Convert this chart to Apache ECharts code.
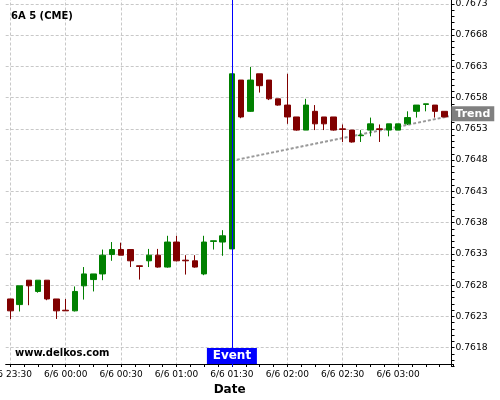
<!DOCTYPE html>
<html><head><meta charset="utf-8">
<script src="https://cdn.jsdelivr.net/npm/echarts@6/dist/echarts.min.js"></script>
<style>html,body{margin:0;padding:0;background:#fff}#chart{width:500px;height:400px}</style>
</head><body><div id="chart"></div>
<script>
// ---- data ----
const candleTimes = ['6/5 23:30','6/5 23:35','6/5 23:40','6/5 23:45','6/5 23:50','6/5 23:55',
  '6/6 00:00','6/6 00:05','6/6 00:10','6/6 00:15','6/6 00:20','6/6 00:25',
  '6/6 00:30','6/6 00:35','6/6 00:40','6/6 00:45','6/6 00:50','6/6 00:55',
  '6/6 01:00','6/6 01:05','6/6 01:10','6/6 01:15','6/6 01:20','6/6 01:25',
  '6/6 01:30','6/6 01:35','6/6 01:40','6/6 01:45','6/6 01:50','6/6 01:55',
  '6/6 02:00','6/6 02:05','6/6 02:10','6/6 02:15','6/6 02:20','6/6 02:25',
  '6/6 02:30','6/6 02:35','6/6 02:40','6/6 02:45','6/6 02:50','6/6 02:55',
  '6/6 03:00','6/6 03:05','6/6 03:10','6/6 03:15','6/6 03:20','6/6 03:25'];
const openVals = [0.76258,0.76249,0.76288,0.76270,0.76288,0.76258,
  0.76240,0.76239,0.76279,0.76289,0.76298,0.76329,
  0.76337,0.76337,0.76311,0.76319,0.76328,0.76309,
  0.76349,0.76320,0.76319,0.76298,0.76350,0.76349,
  0.76338,0.76608,0.76558,0.76618,0.76608,0.76578,
  0.76568,0.76549,0.76528,0.76558,0.76549,0.76549,
  0.76530,0.76528,0.76519,0.76528,0.76530,0.76528,
  0.76528,0.76538,0.76558,0.76569,0.76568,0.76558];
const closeVals = [0.76239,0.76279,0.76279,0.76288,0.76258,0.76239,
  0.76239,0.76270,0.76298,0.76298,0.76328,0.76337,
  0.76328,0.76319,0.76310,0.76328,0.76309,0.76349,
  0.76319,0.76319,0.76309,0.76349,0.76351,0.76359,
  0.76618,0.76549,0.76608,0.76599,0.76578,0.76568,
  0.76549,0.76528,0.76568,0.76538,0.76538,0.76528,
  0.76529,0.76509,0.76520,0.76538,0.76529,0.76538,
  0.76538,0.76548,0.76568,0.76570,0.76558,0.76549];
const lowVals = [0.76226,0.76238,0.76248,0.76268,0.76256,0.76226,
  0.76239,0.76238,0.76257,0.76270,0.76288,0.76319,
  0.76328,0.76309,0.76289,0.76309,0.76308,0.76308,
  0.76318,0.76297,0.76308,0.76296,0.76337,0.76327,
  0.76338,0.76547,0.76557,0.76588,0.76576,0.76567,
  0.76538,0.76527,0.76528,0.76528,0.76528,0.76527,
  0.76509,0.76508,0.76509,0.76518,0.76509,0.76518,
  0.76528,0.76536,0.76548,0.76558,0.76548,0.76549];
const highVals = [0.76258,0.76279,0.76288,0.76288,0.76288,0.76258,
  0.76258,0.76278,0.76309,0.76298,0.76337,0.76349,
  0.76348,0.76337,0.76311,0.76338,0.76338,0.76359,
  0.76359,0.76328,0.76328,0.76359,0.76351,0.76368,
  0.76618,0.76608,0.76629,0.76618,0.76608,0.76578,
  0.76618,0.76549,0.76578,0.76568,0.76549,0.76549,
  0.76537,0.76528,0.76528,0.76548,0.76537,0.76538,
  0.76538,0.76558,0.76568,0.76570,0.76568,0.76558];
const xTickLabels = ['6/5 23:30','6/6 00:00','6/6 00:30','6/6 01:00','6/6 01:30','6/6 02:00','6/6 02:30','6/6 03:00'];
const yTickLabels = ['0.7618','0.7623','0.7628','0.7633','0.7638','0.7643','0.7648','0.7653','0.7658','0.7663','0.7668','0.7673'];
const eventTime = '6/6 01:30';
const trendTimes = ['6/6 01:30','6/6 03:27:30'];
const trendVals = [0.76479, 0.76550];
const titleText = '6A 5 (CME)';
const watermark = 'www.delkos.com';

// ---- axis slots (2.5 minute steps) ----
function pad(n){return (n<10?'0':'')+n;}
function slotName(k){
  const t = new Date(Date.UTC(2020,5,5,23,30) + k*150000);
  const s = (t.getUTCMonth()+1)+'/'+t.getUTCDate()+' '+pad(t.getUTCHours())+':'+pad(t.getUTCMinutes());
  return t.getUTCSeconds() ? s+':'+pad(t.getUTCSeconds()) : s;
}
const slots = [];
for (let k=-1;k<=96;k++) slots.push(slotName(k));
const candleData = slots.map(s => {
  const i = candleTimes.indexOf(s);
  return i >= 0 ? [openVals[i], closeVals[i], lowVals[i], highVals[i]] : '-';
});

const UP='#008000', DOWN='#800000', GRID='#c8c8c8';
const chart = echarts.init(document.getElementById('chart'), null, {renderer:'canvas'});
chart.setOption({
  animation:false,
  backgroundColor:'#fff',
  textStyle:{fontFamily:'DejaVu Sans'},
  title:[
    {text:titleText,left:11,top:11,padding:0,textStyle:{fontSize:10,fontWeight:'bold',color:'#000',fontFamily:'DejaVu Sans'}},
    {text:watermark,left:15,top:348.5,padding:0,textStyle:{fontSize:10,fontWeight:'bold',color:'#000',fontFamily:'DejaVu Sans'}}
  ],
  grid:{left:5.7,right:46.5,top:-2.5,bottom:33.5,containLabel:false,outerBoundsMode:'none'},
  xAxis:{
    type:'category',data:slots,boundaryGap:false,offset:-2.5,
    name:'Date',nameLocation:'middle',nameGap:18,
    nameTextStyle:{fontSize:12,fontWeight:'bold',color:'#000',fontFamily:'DejaVu Sans'},
    axisLine:{show:true,lineStyle:{color:'#000',width:1}},
    axisTick:{show:true,length:3,interval:(i)=>i%3===1,lineStyle:{color:'#000'}},
    axisLabel:{show:true,interval:(i,v)=>xTickLabels.indexOf(v)>=0,fontSize:9,color:'#000',margin:6,fontFamily:'DejaVu Sans'},
    splitLine:{show:true,interval:(i,v)=>xTickLabels.indexOf(v)>=0,lineStyle:{color:GRID,type:[3,2],width:1}}
  },
  yAxis:{
    type:'value',position:'right',min:0.7615,max:0.7674,interval:0.0001,offset:-2,scale:true,
    axisLine:{show:true,lineStyle:{color:'#000',width:1}},
    axisTick:{show:true,length:3,lineStyle:{color:'#000'}},
    axisLabel:{show:true,fontSize:9.2,color:'#000',margin:4,fontFamily:'DejaVu Sans',
      formatter:(v)=>{const s=v.toFixed(4);return yTickLabels.indexOf(s)>=0?s:'';}},
    splitLine:{show:true,lineStyle:{color:['rgba(0,0,0,0)','rgba(0,0,0,0)','rgba(0,0,0,0)',GRID,'rgba(0,0,0,0)'],type:[3,2],width:1}}
  },
  series:[
    {
      type:'line',z:1,data:trendTimes.map((t,i)=>[t,trendVals[i]]),
      symbol:'none',silent:true,
      lineStyle:{color:'#999',width:2,type:[3,2]},
      endLabel:{show:true,formatter:'Trend',color:'#fff',fontWeight:'bold',fontSize:11,fontFamily:'DejaVu Sans',
        backgroundColor:'#808080',padding:[2,4,1,4],lineHeight:12,distance:2.5,offset:[0,-2.5]}
    },
    {
      type:'candlestick',z:2,data:candleData,barWidth:6,silent:true,
      itemStyle:{color:UP,color0:DOWN,borderColor:UP,borderColor0:DOWN,borderWidth:1},
      markLine:{silent:true,symbol:'none',animation:false,
        lineStyle:{color:'#0000ff',width:1,type:'solid'},label:{show:false},
        data:[{xAxis:eventTime}]},
      markPoint:{silent:true,animation:false,z:6,
        data:[{coord:[eventTime,0.76154],symbol:'rect',symbolSize:[50,16],symbolOffset:[0,-8],
          itemStyle:{color:'#0000ff'},
          label:{show:true,position:'inside',formatter:'Event',color:'#fff',fontWeight:'bold',fontSize:12,fontFamily:'DejaVu Sans'}}]}
    }
  ]
});
</script></body></html>
